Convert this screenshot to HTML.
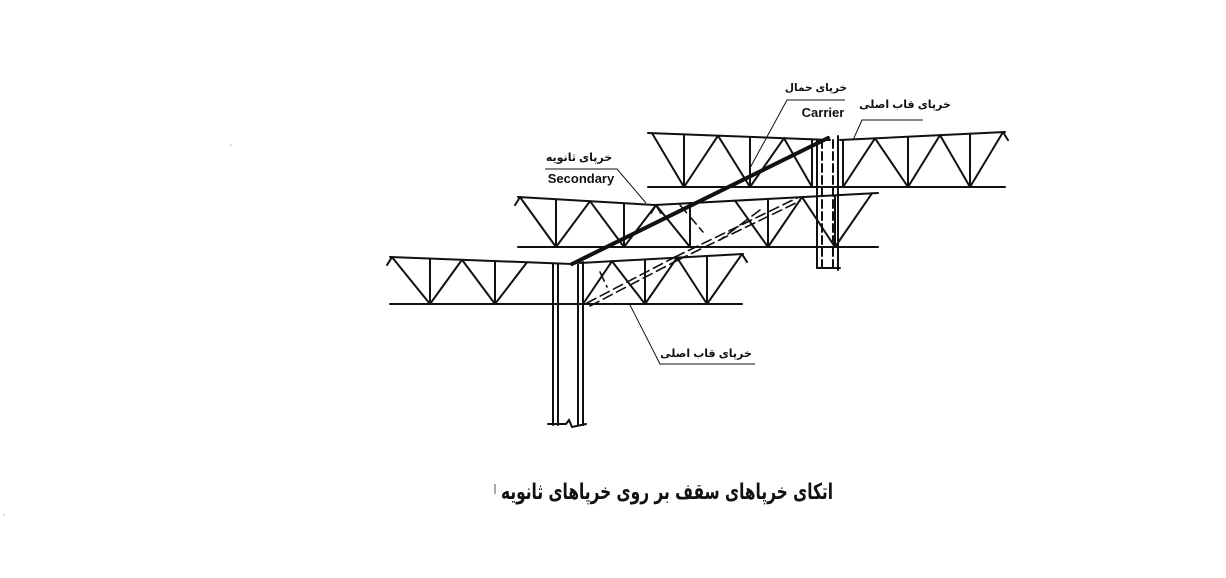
<!DOCTYPE html>
<html><head><meta charset="utf-8">
<style>
html,body{margin:0;padding:0;background:#fff;}
svg{display:block;}
.t{font-family:"Liberation Sans","DejaVu Sans",sans-serif;font-weight:bold;fill:#111;}
</style></head>
<body>
<svg id="s" width="1226" height="578" viewBox="0 0 1226 578" xmlns="http://www.w3.org/2000/svg">
<g id="g" stroke="#111" fill="none" stroke-width="2" stroke-linecap="round">
<line x1="572" y1="264" x2="828" y2="138" stroke-width="4"/>
<line x1="553" y1="264" x2="553" y2="425"/>
<line x1="558" y1="264" x2="558" y2="425"/>
<line x1="578" y1="264" x2="578" y2="425"/>
<line x1="583" y1="262" x2="583" y2="425"/>
<polyline points="548,424 566,424 569,420 572,427 586,424"/>
<line x1="817" y1="140" x2="817" y2="268"/>
<line x1="822" y1="140" x2="822" y2="268" stroke-dasharray="8,4"/>
<line x1="833" y1="140" x2="833" y2="268" stroke-dasharray="8,4"/>
<line x1="838" y1="136" x2="838" y2="270"/>
<line x1="817" y1="268" x2="840" y2="268"/>
<g stroke-dasharray="10,5" stroke-width="1.6">
<line x1="587" y1="303" x2="675" y2="257"/>
<line x1="590" y1="306" x2="678" y2="260"/>
<line x1="675" y1="257" x2="797" y2="198"/>
<line x1="678" y1="260" x2="800" y2="201"/>
<line x1="600" y1="272" x2="607" y2="287"/>
<line x1="680" y1="205" x2="703" y2="232"/>
<line x1="760" y1="210" x2="720" y2="240"/>
<line x1="610" y1="247" x2="660" y2="247"/>
<line x1="700" y1="187" x2="810" y2="187"/>
</g>
</g>
<g stroke="#111" stroke-width="1" fill="none">
<polyline points="845,100 787,100 750,168"/>
<polyline points="923,120 862,120 853,140"/>
<polyline points="545,169 617,169 646,203"/>
<polyline points="755,364 660,364 630,305"/>
</g>
<text class="t" x="816" y="91" font-size="10.5" text-anchor="middle">خرپای حمال</text>
<text class="t" x="823" y="117" font-size="13" text-anchor="middle">Carrier</text>
<text class="t" x="905" y="108" font-size="11" text-anchor="middle">خرپای قاب اصلی</text>
<text class="t" x="579" y="161" font-size="11" text-anchor="middle">خرپای ثانویه</text>
<text class="t" x="581" y="183" font-size="13" text-anchor="middle">Secondary</text>
<text class="t" x="706" y="357" font-size="11" text-anchor="middle">خرپای قاب اصلی</text>
<g transform="translate(667,499) scale(0.7,1)">
<text class="t" x="0" y="0" font-size="22" text-anchor="middle" style="font-family:'DejaVu Sans',sans-serif">اتکای خرپاهای سقف بر روی خرپاهای ثانویه</text>
</g>
<line x1="495" y1="484" x2="495" y2="494" stroke="#555" stroke-width="1"/>
<circle cx="231" cy="145" r="0.6" fill="#888"/>
<circle cx="4" cy="515" r="0.6" fill="#888"/>
</svg>
<script>
var g=document.getElementById('g');
function L(x1,y1,x2,y2,w){var l=document.createElementNS('http://www.w3.org/2000/svg','line');l.setAttribute('x1',x1);l.setAttribute('y1',y1);l.setAttribute('x2',x2);l.setAttribute('y2',y2);if(w)l.setAttribute('stroke-width',w);g.appendChild(l);}
function seg(xa,ya,xb,yb,peaks,bots,yb0){
  function ty(x){return ya+(yb-ya)*(x-xa)/(xb-xa);}
  L(xa,ya,xb,yb);
  for(var i=0;i<bots.length;i++){
    var b=bots[i];
    L(b,ty(b),b,yb0);
    for(var j=0;j<peaks.length;j++){
      if(Math.abs(peaks[j]-b)<45){L(peaks[j],ty(peaks[j]),b,yb0);}
    }
  }
  for(var j=0;j<peaks.length;j++){var p=peaks[j];
    if(p<=xa+3){L(p,ty(p),p-5,ty(p)+8);}
    if(p>=xb-3){L(p,ty(p),p+5,ty(p)+8);}
  }
}
L(390,304,742,304);
seg(390,257,572,264,[392,462,527],[430,495],304);
seg(580,263,743,254,[612,677,742],[583,645,707],304);
L(518,247,878,247);
seg(518,197,655,205,[520,590,656],[556,624],247);
seg(655,205,878,193,[656,735,802,872],[690,768,835],247);
L(648,187,1005,187);
seg(648,133,830,140,[652,718,784],[684,750,812],187);
seg(840,140,1005,132,[875,940,1003],[843,908,970],187);
</script>
</body></html>
